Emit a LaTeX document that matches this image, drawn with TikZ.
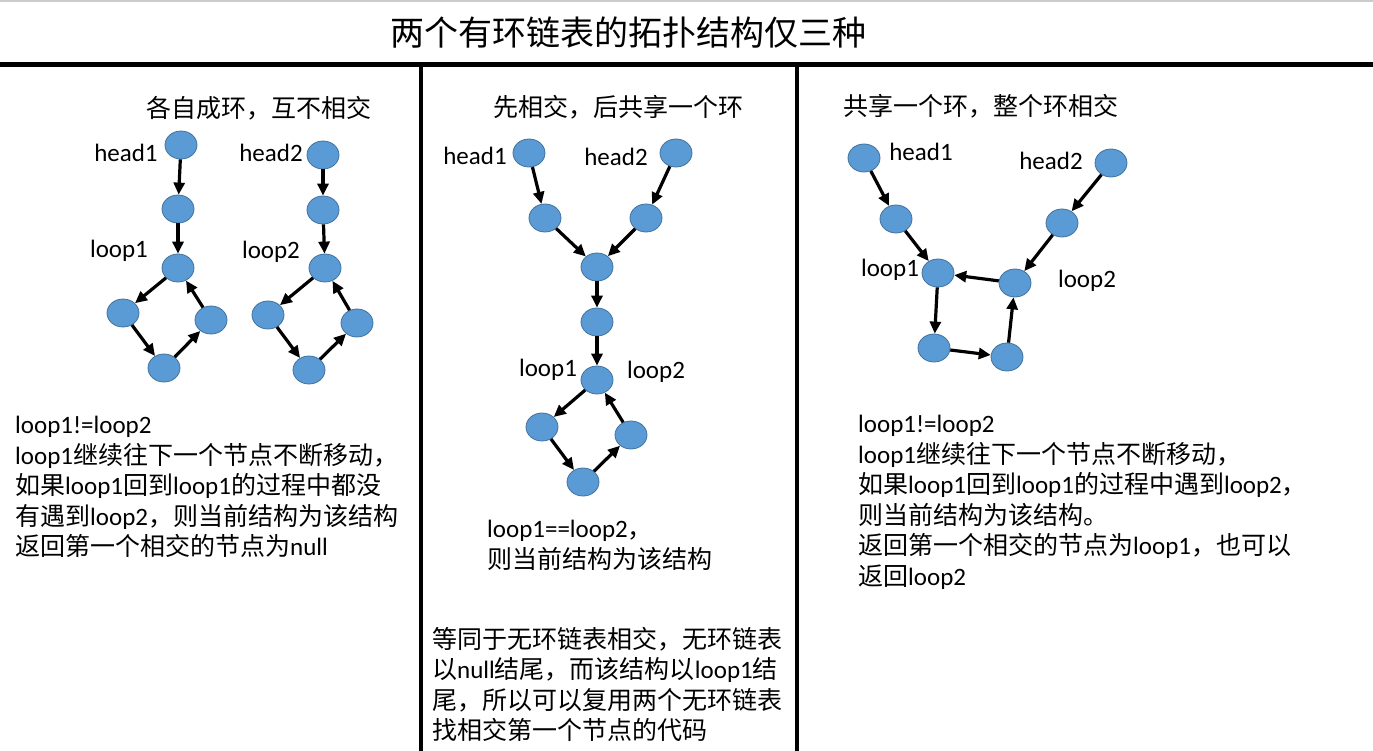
\documentclass[tikz,border=0pt]{standalone}
\usepackage{fontspec}
\setmainfont{Noto Sans CJK SC}
\newfontfamily\lat{Carlito}
\usetikzlibrary{shapes.geometric,arrows.meta}
\definecolor{nodeblue}{HTML}{5B9BD5}
\definecolor{nodeline}{HTML}{41719C}

\begin{document}
\begin{tikzpicture}[x=1pt,y=-1pt,
 nd/.style={ellipse,draw=nodeline,line width=0.8pt,fill=nodeblue,minimum width=32pt,minimum height=28pt,inner sep=0pt},
 ar/.style={-{Triangle[length=12pt,width=11pt]},line width=3.2pt},
 lb/.style={font=\fontsize{25}{30}\selectfont\lat,inner sep=0pt},
 sub/.style={font=\fontsize{25}{30}\selectfont,inner sep=0pt,anchor=west},
 txt/.style={font=\fontsize{25}{30.5}\selectfont,align=left,inner sep=0pt,anchor=north west}]
\useasboundingbox (0,0) rectangle (1373,751);
\fill[white] (0,0) rectangle (1373,751);

% title and frame
\node[font=\fontsize{34}{40}\selectfont] (title) at (628,33) {两个有环链表的拓扑结构仅三种};
\draw[black!20,line width=1.5pt] (0,1) -- (1373,1);
\draw[line width=5pt] (0,65) -- (1373,65);
\draw[line width=4pt] (421,65) -- (421,751);
\draw[line width=4pt] (797,65) -- (797,751);

% panel 1: two separate loops
\node[sub] (s1) at (146,108) {各自成环，互不相交};
\node[nd] (ah1) at (181,145) {};
\node[nd] (am1) at (178,209) {};
\node[nd] (al1) at (178,268) {};
\node[nd] (aw1) at (123,313) {};
\node[nd] (as1) at (164,368) {};
\node[nd] (ae1) at (211,320) {};
\node[nd] (ah2) at (323,155) {};
\node[nd] (am2) at (323,210) {};
\node[nd] (al2) at (325,268) {};
\node[nd] (aw2) at (268,315) {};
\node[nd] (as2) at (309,370) {};
\node[nd] (ae2) at (357,323) {};
\draw[ar] (ah1) -- (am1);
\draw[ar] (am1) -- (al1);
\draw[ar] (al1) -- (aw1);
\draw[ar] (aw1) -- (as1);
\draw[ar] (as1) -- (ae1);
\draw[ar] (ae1) -- (al1);
\draw[ar] (ah2) -- (am2);
\draw[ar] (am2) -- (al2);
\draw[ar] (al2) -- (aw2);
\draw[ar] (aw2) -- (as2);
\draw[ar] (as2) -- (ae2);
\draw[ar] (ae2) -- (al2);
\node[lb] (ahl1) at (126,153) {head1};
\node[lb] (all1) at (119,251) {loop1};
\node[lb] (ahl2) at (271,153) {head2};
\node[lb] (all2) at (271,252) {loop2};
\node[txt] (t1) at (15,416) {{\lat loop1!=loop2}\\
 {\lat loop1}继续往下一个节点不断移动，\\
 如果{\lat loop1}回到{\lat loop1}的过程中都没\\
 有遇到{\lat loop2}，则当前结构为该结构\\
 返回第一个相交的节点为{\lat null}};

% panel 2: meet first, then share the loop
\node[sub] (s2) at (493,107) {先相交，后共享一个环};
\node[nd] (bh1) at (529,153) {};
\node[nd] (bh2) at (676,153) {};
\node[nd] (bm1) at (545,218) {};
\node[nd] (bm2) at (646,218) {};
\node[nd] (bj) at (597,267) {};
\node[nd] (bn) at (597,322) {};
\node[nd] (bl) at (597,380) {};
\node[nd] (bw) at (542,427) {};
\node[nd] (bs) at (583,482) {};
\node[nd] (be) at (631,435) {};
\draw[ar] (bh1) -- (bm1);
\draw[ar] (bh2) -- (bm2);
\draw[ar] (bm1) -- (bj);
\draw[ar] (bm2) -- (bj);
\draw[ar] (bj) -- (bn);
\draw[ar] (bn) -- (bl);
\draw[ar] (bl) -- (bw);
\draw[ar] (bw) -- (bs);
\draw[ar] (bs) -- (be);
\draw[ar] (be) -- (bl);
\node[lb] (bhl1) at (475,156) {head1};
\node[lb] (bhl2) at (616,157) {head2};
\node[lb] (bll1) at (548,370) {loop1};
\node[lb] (bll2) at (656,372) {loop2};
\node[txt] (t2a) at (487,520) {{\lat loop1==loop2}，\\
 则当前结构为该结构};
\node[txt] (t2b) at (432,627) {等同于无环链表相交，无环链表\\
 以{\lat null}结尾，而该结构以{\lat loop1}结\\
 尾，所以可以复用两个无环链表\\
 找相交第一个节点的代码};

% panel 3: share the whole loop
\node[sub] (s3) at (843,106) {共享一个环，整个环相交};
\node[nd] (ch1) at (864,158) {};
\node[nd] (cm1) at (896,219) {};
\node[nd] (cl1) at (938,273) {};
\node[nd] (cw) at (934,348) {};
\node[nd] (ce) at (1007,357) {};
\node[nd] (cl2) at (1015,283) {};
\node[nd] (ch2) at (1111,163) {};
\node[nd] (cm2) at (1062,223) {};
\draw[ar] (ch1) -- (cm1);
\draw[ar] (cm1) -- (cl1);
\draw[ar] (ch2) -- (cm2);
\draw[ar] (cm2) -- (cl2);
\draw[ar] (cl2) -- (cl1);
\draw[ar] (cl1) -- (cw);
\draw[ar] (cw) -- (ce);
\draw[ar] (ce) -- (cl2);
\node[lb] (chl1) at (921,152) {head1};
\node[lb] (chl2) at (1051,161) {head2};
\node[lb] (cll1) at (890,270) {loop1};
\node[lb] (cll2) at (1087,281) {loop2};
\node[txt] (t3) at (858,415) {{\lat loop1!=loop2}\\
 {\lat loop1}继续往下一个节点不断移动，\\
 如果{\lat loop1}回到{\lat loop1}的过程中遇到{\lat loop2}，\\
 则当前结构为该结构。\\
 返回第一个相交的节点为{\lat loop1}，也可以\\
 返回{\lat loop2}};
\end{tikzpicture}
\end{document}
